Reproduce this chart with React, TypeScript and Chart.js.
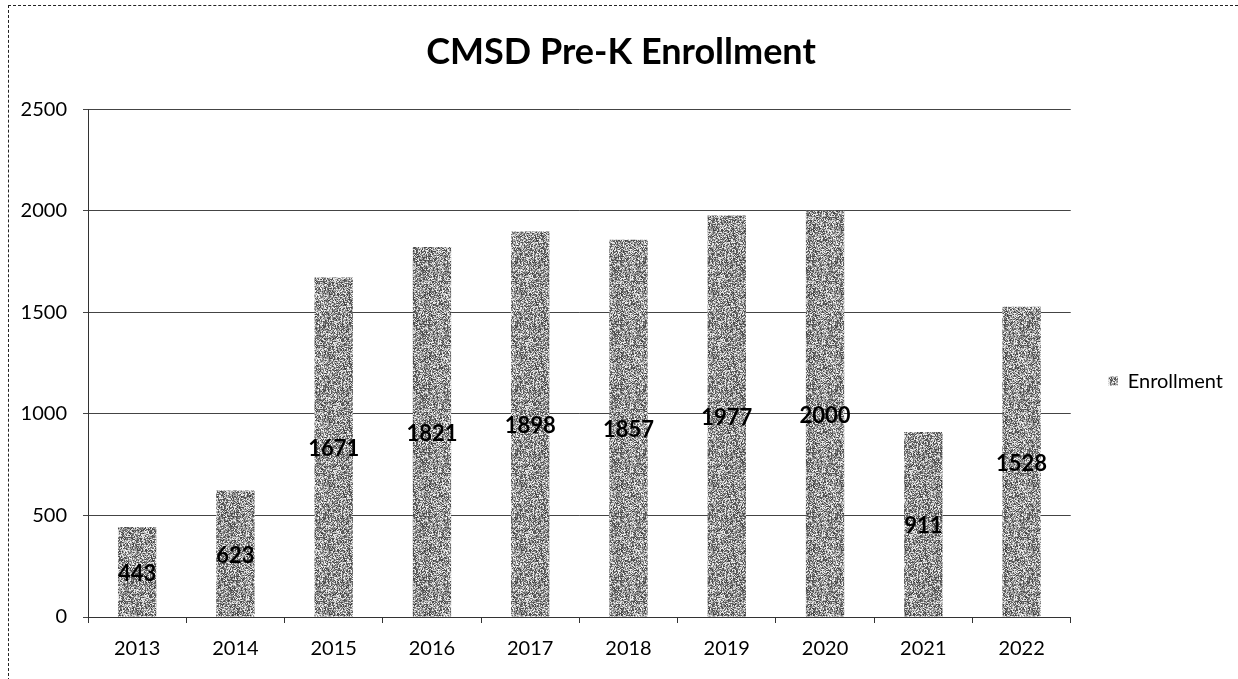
import React, { useEffect, useRef } from "react";
import { Chart, registerables } from "chart.js";

Chart.register(...registerables);

const chartTitle = "CMSD Pre-K Enrollment";
const seriesName = "Enrollment";
const categories = ["2013", "2014", "2015", "2016", "2017", "2018", "2019", "2020", "2021", "2022"];
const enrollment = [443, 623, 1671, 1821, 1898, 1857, 1977, 2000, 911, 1528];
const yTicks = [0, 500, 1000, 1500, 2000, 2500];

const FONT = "Lato, 'Open Sans', 'DejaVu Sans', sans-serif";

function makeNoisePattern(ctx: CanvasRenderingContext2D): CanvasPattern | string {
  const c = document.createElement("canvas");
  c.width = 64;
  c.height = 64;
  const g = c.getContext("2d");
  if (!g) return "#9a9a9a";
  const img = g.createImageData(64, 64);
  let s = 987654321;
  for (let i = 0; i < 64 * 64; i++) {
    s = (s * 1103515245 + 12345) & 0x7fffffff;
    const r = (s >> 8) % 1000;
    let v: number;
    if (r < 420) v = 60 + (r % 60);
    else if (r < 720) v = 140 + (r % 40);
    else v = 205 + (r % 45);
    img.data[i * 4] = v;
    img.data[i * 4 + 1] = v;
    img.data[i * 4 + 2] = v;
    img.data[i * 4 + 3] = 255;
  }
  g.putImageData(img, 0, 0);
  return ctx.createPattern(c, "repeat") || "#9a9a9a";
}

const barLabels = {
  id: "barLabels",
  afterDatasetsDraw(chart: any) {
    const ctx = chart.ctx;
    const meta = chart.getDatasetMeta(0);
    const data = chart.data.datasets[0].data;
    ctx.save();
    ctx.font = `bold 22px ${FONT}`;
    ctx.fillStyle = "#000";
    ctx.textAlign = "center";
    ctx.textBaseline = "middle";
    meta.data.forEach((bar: any, i: number) => {
      const y = (bar.y + bar.base) / 2 + 2;
      ctx.fillText(String(data[i]), bar.x, y);
    });
    ctx.restore();
  },
};

export default function App() {
  const ref = useRef<HTMLCanvasElement>(null);

  useEffect(() => {
    const canvas = ref.current;
    if (!canvas) return;
    const ctx = canvas.getContext("2d");
    if (!ctx) return;
    const pattern = makeNoisePattern(ctx);
    const chart = new Chart(canvas, {
      type: "bar",
      data: {
        labels: categories,
        datasets: [
          {
            label: seriesName,
            data: enrollment,
            backgroundColor: pattern as any,
            borderWidth: 0,
            barPercentage: 0.39,
            categoryPercentage: 1,
          },
        ],
      },
      plugins: [barLabels],
      options: {
        animation: false,
        responsive: false,
        maintainAspectRatio: false,
        layout: { padding: { left: 0, right: 5, top: 0, bottom: 0 } },
        plugins: {
          title: {
            display: true,
            text: chartTitle,
            fullSize: true,
            color: "#000",
            font: { family: FONT, size: 36, weight: "bold" },
            padding: { top: 25, bottom: 35 },
          },
          legend: {
            position: "right",
            align: "center",
            fullSize: false,
            maxWidth: 168,
            title: {
              display: true,
              text: "",
              font: { family: FONT, size: 10 },
              padding: { top: 12, bottom: 12 },
            },
            labels: {
              color: "#000",
              boxWidth: 9,
              boxHeight: 9,
              padding: 38,
              font: { family: FONT, size: 20 },
            },
          },
          tooltip: { enabled: false },
        },
        scales: {
          x: {
            grid: {
              offset: true,
              drawOnChartArea: false,
              drawTicks: true,
              tickLength: 6,
              color: "#333",
            },
            border: { display: true, color: "#333", width: 1 },
            ticks: {
              color: "#000",
              padding: 14,
              font: { family: FONT, size: 20 },
            },
            afterFit: (scale: any) => {
              scale.height = 62;
            },
          },
          y: {
            min: 0,
            max: 2500,
            afterBuildTicks: (scale: any) => {
              scale.ticks = yTicks.map((v) => ({ value: v }));
            },
            grid: {
              color: "#444",
              lineWidth: 1,
              tickLength: 5,
            },
            border: { display: true, color: "#333", width: 1 },
            ticks: {
              color: "#000",
              padding: 16,
              font: { family: FONT, size: 20 },
              callback: (v: any) => String(v),
            },
            afterFit: (scale: any) => {
              scale.width = 79;
            },
          },
        },
      },
    });
    return () => chart.destroy();
  }, []);

  return (
    <div
      style={{
        position: "absolute",
        left: 8,
        top: 5,
        width: 1229,
        height: 680,
        borderLeft: "1px dashed #222",
        borderTop: "1px dashed #222",
        background: "#fff",
      }}
    >
      <canvas ref={ref} width={1229} height={673} style={{ display: "block" }} />
    </div>
  );
}
